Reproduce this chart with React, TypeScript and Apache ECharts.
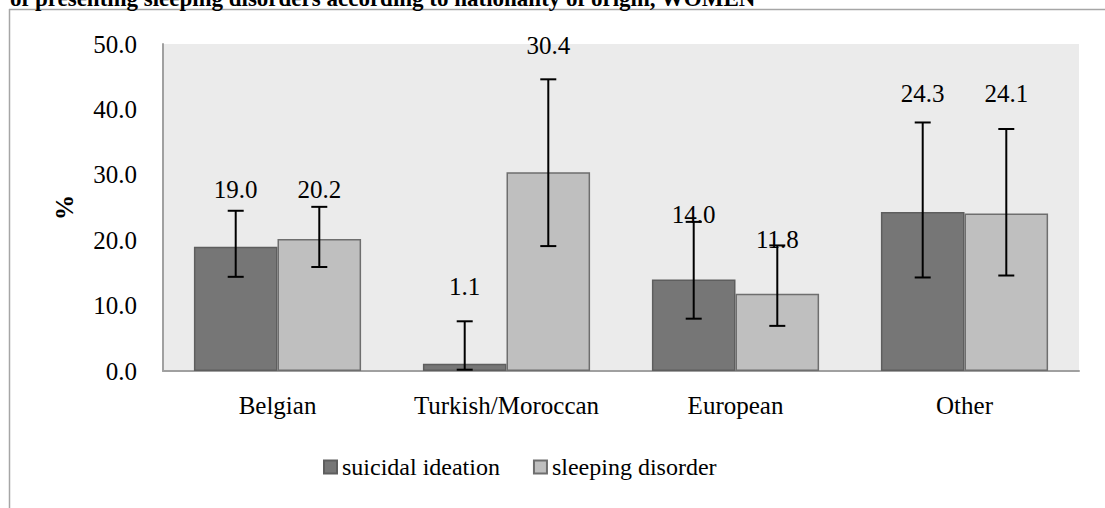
import React, { useEffect, useRef } from "react";
import * as echarts from "echarts";

// ---- data ----
const categories = ["Belgian", "Turkish/Moroccan", "European", "Other"];
const seriesNames = ["suicidal ideation", "sleeping disorder"];
const suicidal = [19.0, 1.1, 14.0, 24.3];
const sleeping = [20.2, 30.4, 11.8, 24.1];
const suicidalLow = [14.4, 0.2, 8.0, 14.3];
const suicidalHigh = [24.5, 7.6, 22.8, 38.0];
const sleepingLow = [15.9, 19.1, 6.9, 14.6];
const sleepingHigh = [25.1, 44.6, 19.2, 37.0];
const yTicks = [0, 10, 20, 30, 40, 50];
const titleText = "of presenting sleeping disorders according to nationality of origin, WOMEN";

// ---- layout: heights (in axis units) where the value labels sit ----
const suicidalLabelAt = [27.7, 12.9, 23.9, 42.4];
const sleepingLabelAt = [27.7, 49.7, 20.1, 42.4];

const FONT = "'Liberation Serif', 'Times New Roman', serif";
const FS = 25;

function errorSeries(values: number[], lo: number[], hi: number[], labelAt: number[], side: number) {
  return {
    type: "custom",
    z: 10,
    silent: true,
    encode: { x: 0, y: [1, 2] },
    data: values.map((v, i) => [i, lo[i], hi[i], v, labelAt[i]]),
    renderItem: (params: any, api: any) => {
      const i = api.value(0);
      const band = api.size([1, 0])[0];
      const barW = (band * (1 - 0.27)) / 2;
      const c = api.coord([i, 0]);
      const cx = c[0] + side * barW / 2;
      const yLo = api.coord([i, api.value(1)])[1];
      const yHi = api.coord([i, api.value(2)])[1];
      const yLab = api.coord([i, api.value(4)])[1];
      const cap = 8;
      const st = { stroke: "#000", lineWidth: 2 };
      return {
        type: "group",
        children: [
          { type: "line", shape: { x1: cx, y1: yLo, x2: cx, y2: yHi }, style: st },
          { type: "line", shape: { x1: cx - cap, y1: yLo, x2: cx + cap, y2: yLo }, style: st },
          { type: "line", shape: { x1: cx - cap, y1: yHi, x2: cx + cap, y2: yHi }, style: st },
          {
            type: "text",
            x: cx,
            y: yLab,
            style: {
              text: Number(api.value(3)).toFixed(1),
              font: `${FS}px ${FONT}`,
              fill: "#000",
              align: "center",
              verticalAlign: "middle",
            },
          },
        ],
      };
    },
  };
}

export default function App() {
  const ref = useRef<HTMLDivElement>(null);
  useEffect(() => {
    if (!ref.current) return;
    const chart = echarts.init(ref.current, undefined, { renderer: "svg" });
    const barCommon = {
      type: "bar",
      barGap: "0%",
      barCategoryGap: "27%",
    };
    chart.setOption({
      animation: false,
      textStyle: { fontFamily: FONT, color: "#000" },
      grid: {
        left: 163,
        right: 26,
        top: 44,
        bottom: 137,
        show: true,
        backgroundColor: "#ebebeb",
        borderWidth: 0,
      },
      legend: {
        left: 323,
        top: 455,
        padding: 0,
        icon: "rect",
        itemWidth: 13,
        itemHeight: 13,
        itemGap: 33,
        textStyle: { fontFamily: FONT, fontSize: 24, color: "#000" },
        data: seriesNames,
      },
      xAxis: {
        type: "category",
        data: categories,
        axisLine: { show: true, lineStyle: { color: "#a0a0a0", width: 2 } },
        axisTick: { show: false },
        axisLabel: { fontFamily: FONT, fontSize: FS, color: "#000", margin: 22, interval: 0 },
      },
      yAxis: {
        type: "value",
        min: yTicks[0],
        max: yTicks[yTicks.length - 1],
        interval: 10,
        name: "%",
        nameLocation: "middle",
        nameGap: 86,
        nameTextStyle: { fontFamily: FONT, fontSize: FS, fontWeight: "bold", color: "#000" },
        axisLine: { show: true, lineStyle: { color: "#a0a0a0", width: 2 } },
        axisTick: { show: false },
        splitLine: { show: false },
        axisLabel: {
          fontFamily: FONT,
          fontSize: FS,
          color: "#000",
          margin: 26,
          padding: [10, 0, 0, 0],
          formatter: (v: number) => v.toFixed(1),
        },
      },
      graphic: [
        {
          type: "line",
          shape: { x1: 9, y1: 9.5, x2: 1105, y2: 9.5 },
          style: { stroke: "#a6a6a6", lineWidth: 1.5 },
        },
        {
          type: "line",
          shape: { x1: 9.5, y1: 9, x2: 9.5, y2: 508 },
          style: { stroke: "#a6a6a6", lineWidth: 1.5 },
        },
        {
          type: "text",
          left: 10,
          top: -13,
          style: {
            text: titleText,
            font: `bold 23px ${FONT}`,
            fill: "#000",
          },
        },
      ],
      series: [
        {
          ...barCommon,
          name: seriesNames[0],
          data: suicidal,
          itemStyle: { color: "#767676", borderColor: "#5e5e5e", borderWidth: 1.5 },
        },
        {
          ...barCommon,
          name: seriesNames[1],
          data: sleeping,
          itemStyle: { color: "#bfbfbf", borderColor: "#6e6e6e", borderWidth: 1.5 },
        },
        errorSeries(suicidal, suicidalLow, suicidalHigh, suicidalLabelAt, -1),
        errorSeries(sleeping, sleepingLow, sleepingHigh, sleepingLabelAt, 1),
      ],
    });
    return () => chart.dispose();
  }, []);
  return (
    <div
      ref={ref}
      style={{ position: "absolute", left: 0, top: 0, width: 1105, height: 508, background: "#fff" }}
    />
  );
}
